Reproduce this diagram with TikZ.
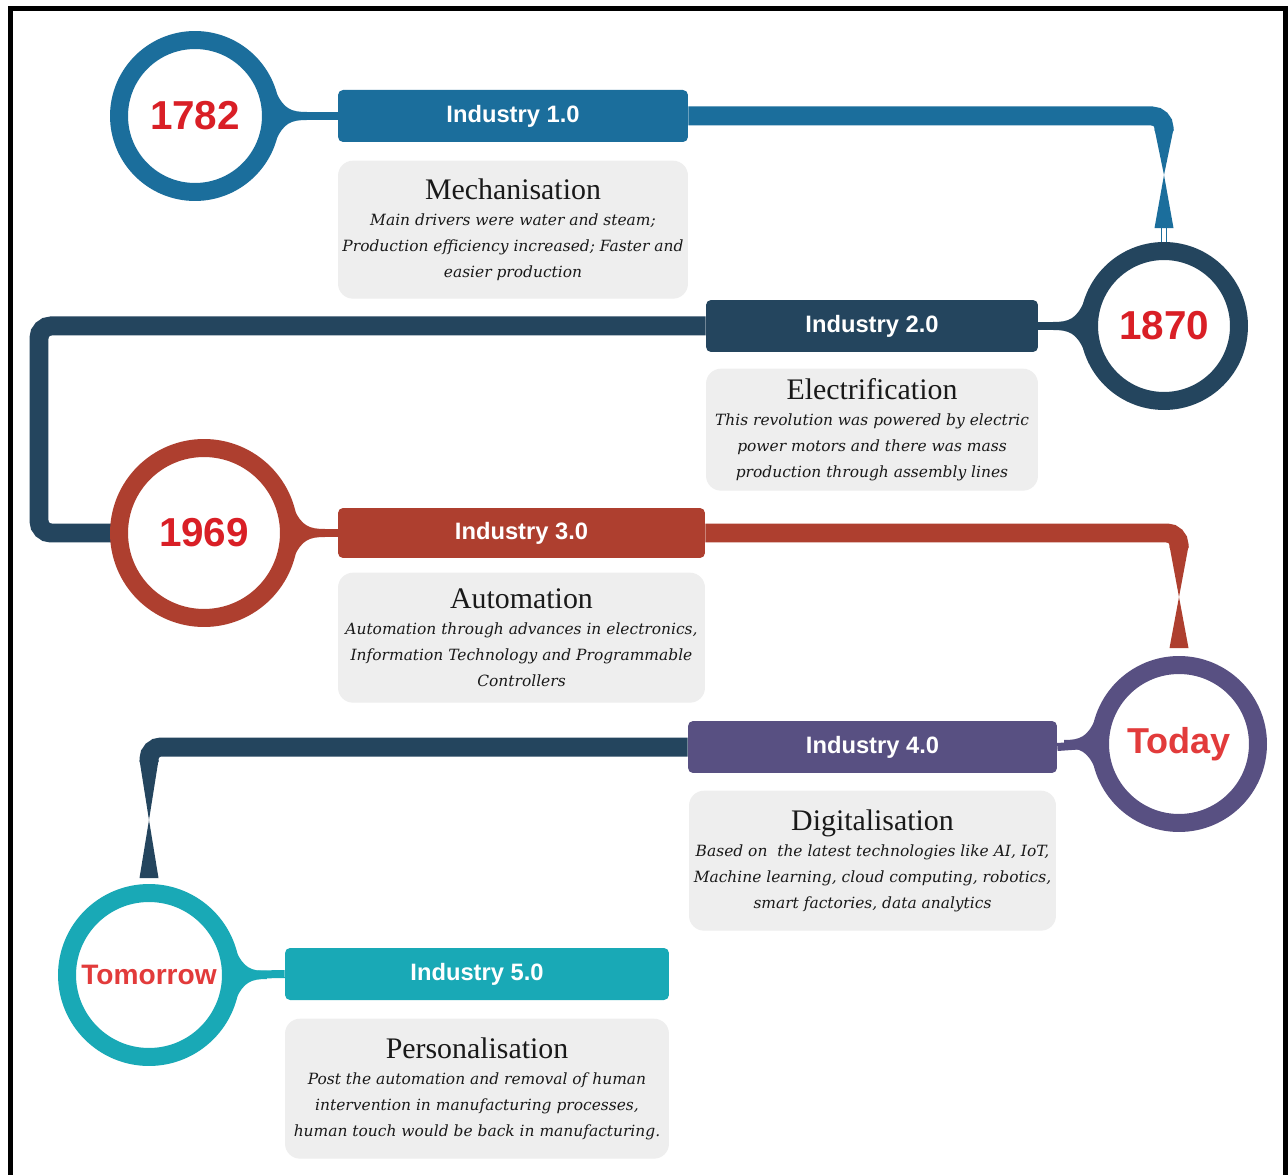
\documentclass[tikz,border=0pt]{standalone}
\usepackage{fontspec}
\setmainfont{Liberation Serif}
\newfontfamily\sansfont{Liberation Sans}
\newfontfamily\notefont{DejaVu Serif}
\usetikzlibrary{positioning,calc,backgrounds}

\definecolor{stageblue}{HTML}{1B6E9C}
\definecolor{stagenavy}{HTML}{24455E}
\definecolor{stagered}{HTML}{AE3F2F}
\definecolor{stagepurple}{HTML}{585082}
\definecolor{stageteal}{HTML}{19A9B6}
\definecolor{notegray}{HTML}{EEEEEE}
\definecolor{yearred}{HTML}{D91F26}
\definecolor{wordred}{HTML}{E23B3B}

\newcommand{\notetitle}[1]{{\rmfamily\upshape\fontsize{17}{20}\selectfont #1}}
\newcommand{\neckflare}[3]{\fill[#3, shift={(#1)}, xscale=#2] (-4,-40) -- (5,-24) .. controls (13,-7) and (20,-4) .. (36,-4) -- (36,4) .. controls (20,4) and (13,7) .. (5,24) -- (-4,40) -- cycle;}
\newcommand{\hourglass}[5]{%
  \fill[#1] ($(#2.north)+(-9.5,#3)$) -- ($(#2.north)+(9.5,#3)$) -- ($(#2.north)+(0,#4)$) -- cycle;
  \fill[#1] ($(#2.north)+(0,#4)$) -- ($(#2.north)+(9.5,#5)$) -- ($(#2.north)+(-9.5,#5)$) -- cycle;}

\begin{document}
\begin{tikzpicture}[x=0.02cm, y=-0.02cm,
    year/.style={circle, draw, line width=0.36cm, fill=white, inner sep=0pt, outer sep=0pt, text=yearred, font=\sansfont\bfseries\fontsize{23}{26}\selectfont},
    stage/.style={rectangle, rounded corners=0.1cm, minimum height=1.04cm, inner sep=0pt, text=white, font=\sansfont\bfseries\fontsize{13.5}{16}\selectfont},
    note/.style={rectangle, rounded corners=0.3cm, fill=notegray, align=center, inner sep=0pt, text=black!90, font=\notefont\itshape\fontsize{8.8}{14.7}\selectfont},
    track/.style={draw, line width=0.38cm, rounded corners=0.24cm},
    neck/.style={draw, line width=0.16cm}
  ]

  \useasboundingbox (0,0) rectangle (1288,1175);

  \node [year, draw=stageblue, minimum size=3.04cm] (c1) at (195,116) {1782};
  \node [year, draw=stagenavy, minimum size=3.0cm] (c2) at (1164,326) {1870};
  \node [year, draw=stagered, minimum size=3.4cm] (c3) at (204,533) {1969};
  \node [year, draw=stagepurple, minimum size=3.16cm, text=wordred, font=\sansfont\bfseries\fontsize{20.5}{24}\selectfont] (c4) at (1179,744) {Today};
  \node [year, draw=stageteal, minimum size=3.28cm, text=wordred, font=\sansfont\bfseries\fontsize{16}{19}\selectfont] (c5) at (149,975) {Tomorrow};

  \node [stage, fill=stageblue, minimum width=7cm] (b1) at (513,116) {Industry 1.0};
  \node [stage, fill=stagenavy, minimum width=6.64cm] (b2) at (872,326) {Industry 2.0};
  \node [stage, fill=stagered, minimum width=7.34cm, minimum height=1cm] (b3) at (521.5,533) {Industry 3.0};
  \node [stage, fill=stagepurple, minimum width=7.38cm] (b4) at (872.5,747) {Industry 4.0};
  \node [stage, fill=stageteal, minimum width=7.68cm] (b5) at (477,974) {Industry 5.0};

  \node [note, below=0.36cm of b1, minimum width=7cm, minimum height=2.76cm] (d1) {\notetitle{Mechanisation}\\ Main drivers were water and steam;\\ Production efficiency increased; Faster and\\ easier production};
  \node [note, below=0.32cm of b2, minimum width=6.64cm, minimum height=2.44cm] (d2) {\notetitle{Electrification}\\ This revolution was powered by electric\\ power motors and there was mass\\ production through assembly lines};
  \node [note, below=0.28cm of b3, minimum width=7.34cm, minimum height=2.6cm] (d3) {\notetitle{Automation}\\ Automation through advances in electronics,\\ Information Technology and Programmable\\ Controllers};
  \node [note, below=0.34cm of b4, minimum width=7.34cm, minimum height=2.8cm] (d4) {\notetitle{Digitalisation}\\ Based on\ \ the latest technologies like AI, IoT,\\ Machine learning, cloud computing, robotics,\\ smart factories, data analytics};
  \node [note, below=0.36cm of b5, minimum width=7.68cm, minimum height=2.8cm] (d5) {\notetitle{Personalisation}\\ Post the automation and removal of human\\ intervention in manufacturing processes,\\ human touch would be back in manufacturing.};

  \coordinate (bend2) at (39,430);

  \begin{pgfonlayer}{background}
    \fill [white] (0,0) rectangle (1288,1175);
    \draw [track, stageblue] (b1.east) -| ($(c2.north)+(0,-120)$);
    \hourglass{stageblue}{c2}{-122}{-76}{-23}
    \draw [stageblue, line width=0.024cm] ($(c2.north)+(-2.5,-24)$) -- ($(c2.north)+(-2.5,0)$);
    \draw [stageblue, line width=0.024cm] ($(c2.north)+(2.5,-24)$) -- ($(c2.north)+(2.5,0)$);
    \draw [track, stagenavy] (b2.west) -| (bend2) |- (c3.west);
    \draw [track, stagered] (b3.east) -| ($(c4.north)+(0,-117)$);
    \hourglass{stagered}{c4}{-119}{-68}{-17}
    \draw [track, stagenavy] (b4.west) -| ($(c5.north)+(0,-131)$);
    \hourglass{stagenavy}{c5}{-133}{-73}{-15}

    \draw [neck, stageblue] (c1.east) -- (b1.west);
    \neckflare{c1.east}{1}{stageblue}
    \draw [neck, stagenavy] (b2.east) -- (c2.west);
    \neckflare{c2.west}{-1}{stagenavy}
    \draw [neck, stagered] (c3.east) -- (b3.west);
    \neckflare{c3.east}{1}{stagered}
    \draw [neck, stagepurple] (b4.east) -- (c4.west);
    \neckflare{c4.west}{-1}{stagepurple}
    \draw [neck, stageteal] (c5.east) -- (b5.west);
    \neckflare{c5.east}{1}{stageteal}
  \end{pgfonlayer}

  \draw [line width=0.09cm] (10.5,1180) -- (10.5,8.5) -- (1285.5,8.5) -- (1285.5,1180);

\end{tikzpicture}
\end{document}
